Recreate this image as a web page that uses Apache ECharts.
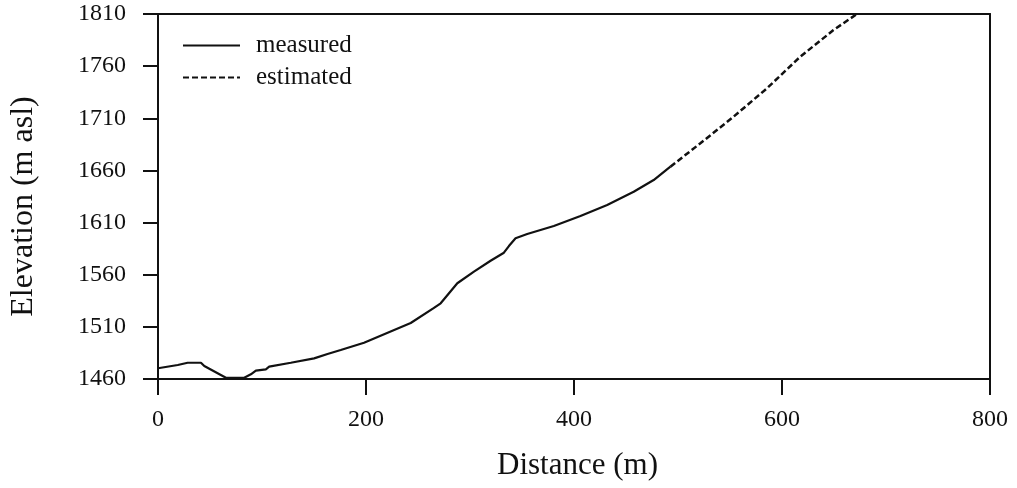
<!DOCTYPE html>
<html>
<head>
<meta charset="utf-8">
<script src="https://cdn.jsdelivr.net/npm/echarts@6/dist/echarts.min.js"></script>
<style>html,body{margin:0;padding:0;background:#fff;}#c{width:1017px;height:488px;}</style>
</head>
<body>
<div id="c"></div>
<script>
const measuredX = [0, 19, 28.5, 41.3, 44.5, 65.3, 82.9, 89.3, 94.1, 103.7, 106.9, 127.7, 150.1, 163, 175.7, 198.1, 243, 265, 271.8, 287.8, 303.8, 319.8, 332.6, 337.4, 343.8, 355, 380.6, 406.2, 431.9, 457.4, 476.6, 492.7];
const measuredY = [1470.3, 1473.4, 1475.6, 1475.6, 1472.5, 1461.2, 1461.2, 1464.5, 1468, 1469.3, 1471.8, 1475.6, 1479.8, 1484, 1487.8, 1494.8, 1513.7, 1528, 1532.6, 1551.8, 1562.9, 1573.4, 1581.1, 1587.5, 1594.9, 1599, 1606.7, 1616.3, 1626.8, 1639.6, 1650.8, 1663.6];
const estimatedX = [492.7, 521.5, 553.4, 585.5, 617.5, 649.5, 672];
const estimatedY = [1663.6, 1686, 1711.5, 1738.7, 1769, 1794.6, 1810];
const xTicks = [0, 200, 400, 600, 800];
const yTicks = [1460, 1510, 1560, 1610, 1660, 1710, 1760, 1810];

const font = 'Liberation Serif';
const ink = '#111';
const zip = (a, b) => a.map((v, i) => [v, b[i]]);

const chart = echarts.init(document.getElementById('c'), null, {renderer: 'canvas'});
chart.setOption({
  animation: false,
  backgroundColor: '#fff',
  grid: {left: 157, right: 27, top: 14, bottom: 109},
  legend: {
    left: 182, top: 33, orient: 'vertical', padding: 0,
    itemWidth: 57, itemHeight: 14, itemGap: 7,
    itemStyle: {opacity: 0},
    textStyle: {fontFamily: font, fontSize: 25, color: ink, lineHeight: 22, padding: [0, 0, 0, 11]},
    data: ['measured', 'estimated']
  },
  xAxis: [{
    type: 'value', min: 0, max: 800, interval: 200, position: 'bottom',
    name: 'Distance (m)', nameLocation: 'middle', nameGap: 71,
    nameTextStyle: {fontFamily: font, fontSize: 31, color: ink, padding: [0, 0, 0, 7]},
    axisLine: {show: true, onZero: false, lineStyle: {color: ink, width: 2}},
    axisTick: {show: true, inside: false, length: 16, lineStyle: {color: ink, width: 2}},
    axisLabel: {fontFamily: font, fontSize: 24, color: ink, margin: 29,
      formatter: v => xTicks.includes(v) ? String(v) : ''},
    splitLine: {show: false}
  }, {
    type: 'value', min: 0, max: 800, position: 'top',
    axisLine: {show: true, onZero: false, lineStyle: {color: ink, width: 2}},
    axisTick: {show: false}, axisLabel: {show: false}, splitLine: {show: false}
  }],
  yAxis: [{
    type: 'value', min: 1460, max: 1810, interval: 50, position: 'left',
    name: 'Elevation (m asl)', nameLocation: 'middle', nameGap: 118,
    nameTextStyle: {fontFamily: font, fontSize: 32, color: ink, padding: [0, 20, 0, 0]},
    axisLine: {show: true, onZero: false, lineStyle: {color: ink, width: 2}},
    axisTick: {show: true, inside: false, length: 15, lineStyle: {color: ink, width: 2}},
    axisLabel: {fontFamily: font, fontSize: 24, color: ink, margin: 32, padding: [5, 0, 0, 0],
      formatter: v => yTicks.includes(v) ? String(v) : ''},
    splitLine: {show: false}
  }, {
    type: 'value', min: 1460, max: 1810, position: 'right',
    axisLine: {show: true, onZero: false, lineStyle: {color: ink, width: 2}},
    axisTick: {show: false}, axisLabel: {show: false}, splitLine: {show: false}
  }],
  series: [{
    name: 'measured', type: 'line', xAxisIndex: 0, yAxisIndex: 0,
    data: zip(measuredX, measuredY), symbol: 'none', smooth: false,
    lineStyle: {color: ink, width: 2.2}, itemStyle: {color: ink}
  }, {
    name: 'estimated', type: 'line', xAxisIndex: 0, yAxisIndex: 0,
    data: zip(estimatedX, estimatedY), symbol: 'none', smooth: false,
    lineStyle: {color: ink, width: 2.5, type: [6, 3]}, itemStyle: {color: ink}
  }]
});
</script>
</body>
</html>
